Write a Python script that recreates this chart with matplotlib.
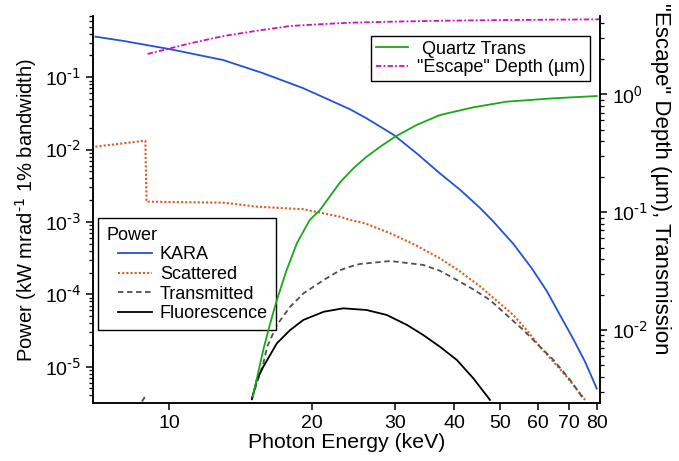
import numpy as np
import matplotlib
matplotlib.use("Agg")
import matplotlib.pyplot as plt
from matplotlib.lines import Line2D
from matplotlib.legend_handler import HandlerLine2D
from matplotlib.ticker import FixedLocator, NullLocator, LogLocator, FixedFormatter, FuncFormatter

plt.rcParams['font.family'] = ['Liberation Sans', 'DejaVu Sans']
plt.rcParams['mathtext.default'] = 'regular'
plt.rcParams['axes.unicode_minus'] = False

# ---------------- data ----------------
kara_E = [6.98, 8.0, 10.05, 13.0, 15.8, 19.2, 24.1, 26.1, 29.8, 33.3, 37.3, 41.2, 45.4,
          48.4, 53.3, 58.3, 62.7, 66.9, 71.4, 75.6, 80.0]
kara_P = [0.364, 0.318, 0.244, 0.173, 0.1135, 0.0705, 0.0361, 0.0271, 0.016, 0.00891, 0.0047,
          0.00277, 0.00155, 1.01e-3, 5.0e-4, 2.3e-4, 1.12e-4, 5.19e-5, 2.4e-5, 1.17e-5, 5.0e-6]

scat_E = [6.98, 8.9, 8.95, 13.0, 15.3, 19.2, 23.0, 24.1, 25.9, 29.3, 33.1, 37.3, 41.2,
          45.4, 53.3, 56.9, 60.7, 69.1, 75.6]
scat_P = [0.011, 0.0133, 0.00191, 0.00185, 0.00163, 0.00150, 0.00118, 0.00107, 9.6e-4,
          6.98e-4, 4.81e-4, 3.15e-4, 2.06e-4, 1.28e-4, 5.19e-5, 3.21e-5, 1.89e-5, 7.3e-6, 3.47e-6]

trans_E = [8.75, 8.9, np.nan, 14.95, 15.8, 16.1, 16.88, 18.0, 19.2, 21.2, 23.0, 24.1, 25.3,
           29.3, 34.4, 37.3, 40.5, 43.9, 47.6, 51.6, 56.0, 60.7, 64.8, 70.3, 74.9]
trans_P = [3.3e-6, 3.9e-6, np.nan, 3.66e-6, 1.11e-5, 1.89e-5, 3.77e-5, 6.74e-5, 1.03e-4,
           1.58e-4, 2.17e-4, 2.41e-4, 2.63e-4, 2.89e-4, 2.55e-4, 2.12e-4, 1.58e-4, 1.17e-4,
           8.35e-5, 5.19e-5, 3.21e-5, 1.89e-5, 1.24e-5, 6.55e-6, 3.66e-6]

fluo_E = [14.95, 15.3, 15.8, 16.88, 18.0, 19.2, 21.2, 23.3, 26.1, 28.8, 31.8, 34.4,
          37.3, 40.5, 43.9, 47.6]
fluo_P = [3.55e-6, 6.55e-6, 1.0e-5, 2.11e-5, 3.21e-5, 4.43e-5, 5.75e-5, 6.41e-5, 6.08e-5,
          5.19e-5, 3.77e-5, 2.74e-5, 1.89e-5, 1.24e-5, 6.9e-6, 3.47e-6]

quartz_E = [15.02, 15.4, 15.8, 16.3, 16.88, 17.7, 18.6, 19.8, 20.8, 23.0, 24.5, 26.1, 27.9,
            30.0, 33.3, 37.3, 43.9, 51.6, 64.8, 80.0]
quartz_T = [0.00272, 0.0043, 0.0068, 0.011, 0.018, 0.0323, 0.0544, 0.0858, 0.104, 0.181,
            0.236, 0.295, 0.359, 0.437, 0.549, 0.667, 0.776, 0.866, 0.925, 0.967]

depth_E = [9.0, 11.08, 13.0, 15.3, 18.0, 21.2, 24.1, 29.2, 37.3, 51.6, 81.3]
depth_D = [2.2, 2.71, 3.12, 3.46, 3.80, 3.95, 4.05, 4.13, 4.21, 4.27, 4.33]

x_ticks = [10, 20, 30, 40, 50, 60, 70, 80]
x_ticklabels = ['10', '20', '30', '40', '50', '60', '70', '80']


def decade_label(v, pos):
    e = int(round(np.log10(v)))
    if e < 0:
        return r'10$^{\text{-%d}}$' % (-e)
    return r'10$^{%d}$' % e


class IndentHandler(HandlerLine2D):
    def __init__(self, indent, **kw):
        super().__init__(**kw)
        self.indent = indent

    def create_artists(self, legend, orig_handle, xdescent, ydescent, width, height,
                       fontsize, trans):
        return super().create_artists(legend, orig_handle, xdescent - self.indent, ydescent,
                                      width - self.indent, height, fontsize, trans)


# ---------------- figure ----------------
fig = plt.figure(figsize=(6.79, 4.61), dpi=100)
ax = fig.add_axes([0.137, 0.1258, 0.7467, 0.8395])
ax2 = ax.twinx()

lw = 1.3
ax.plot(kara_E, kara_P, color='#2352d6', lw=lw, label='KARA')
ax.plot(scat_E, scat_P, color='#dd5a20', lw=1.5, ls=(0, (1, 1)), label='Scattered')
ax.plot(trans_E, trans_P, color='#505050', lw=lw, ls=(0, (3, 2)), label='Transmitted')
ax.plot(fluo_E, fluo_P, color='black', lw=lw, label='Fluorescence')

ax2.plot(quartz_E, quartz_T, color='#18a818', lw=lw, label=' Quartz Trans')
ax2.plot(depth_E, depth_D, color='#d010c0', lw=1.3, ls=(0, (3, 1.2, 1, 1.2)),
         label='"Escape" Depth (µm)')

for a in (ax, ax2):
    a.set_xscale('log')
    a.set_yscale('log')
ax.set_xlim(6.9, 81.3)
ax.set_ylim(3.15e-6, 0.703)
ax2.set_ylim(0.0024, 4.62)

ax.xaxis.set_major_locator(FixedLocator(x_ticks))
ax.xaxis.set_major_formatter(FixedFormatter(x_ticklabels))
ax.xaxis.set_minor_locator(NullLocator())

for a in (ax, ax2):
    a.yaxis.set_major_locator(LogLocator(base=10, numticks=20))
    a.yaxis.set_minor_locator(LogLocator(base=10, subs=np.arange(2, 10), numticks=20))
    a.yaxis.set_major_formatter(FuncFormatter(decade_label))

for a in (ax, ax2):
    a.tick_params(which='major', direction='out', length=5, width=1.1, labelsize=14, color='black')
    a.tick_params(which='minor', direction='out', length=3, width=0.9)
    for s in a.spines.values():
        s.set_linewidth(1.1)
    a.spines['top'].set_visible(False)

ax.set_xlabel('Photon Energy (keV)', fontsize=15.3, labelpad=1)
ax.set_ylabel(r'Power (kW mrad$^{\text{-1}}$ 1% bandwidth)', fontsize=14.5, labelpad=4)
ax2.set_ylabel('"Escape" Depth (µm), Transmission', fontsize=16, rotation=270)
ax2.yaxis.set_label_coords(1.14, 0.579)

leg1 = ax.legend(loc='upper left', bbox_to_anchor=(0.0105, 0.477), borderaxespad=0,
                 title='Power', title_fontsize=13, fontsize=13, alignment='left',
                 fancybox=False, framealpha=1, edgecolor='black',
                 handlelength=2.5, handletextpad=0.45, labelspacing=0.15, borderpad=0.45,
                 handler_map={Line2D: IndentHandler(8.6)})
leg1.get_frame().set_linewidth(1.0)
leg1.set_zorder(5)

leg2 = ax2.legend(loc='upper right', bbox_to_anchor=(0.98, 0.948), borderaxespad=0,
                  fontsize=13, fancybox=False, framealpha=1, edgecolor='black',
                  handlelength=1.8, handletextpad=0.5, labelspacing=0.1, borderpad=0.25)
leg2.get_frame().set_linewidth(1.0)

fig.savefig('out.png', dpi=100)
